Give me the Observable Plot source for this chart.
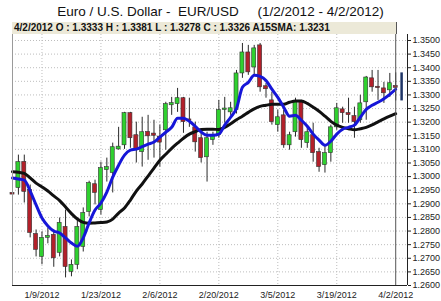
<!DOCTYPE html>
<html><head><meta charset="utf-8">
<script src="https://cdn.jsdelivr.net/npm/d3@7"></script>
<script src="https://cdn.jsdelivr.net/npm/@observablehq/plot@0.6"></script>
<style>
html,body{margin:0;padding:0;background:#fff;}
#wrap{position:relative;width:441px;height:301px;overflow:hidden;font-family:Arial,"Liberation Sans",sans-serif;}
#title{position:absolute;left:0;top:0;width:441px;height:22px;text-align:center;font-size:13.5px;line-height:23px;white-space:pre;color:#111;}
#chart{position:absolute;left:0;top:22px;}
#info{position:absolute;left:12px;top:22px;width:385px;height:12px;background:#ece9d8;border-right:1px solid #555;font-size:10px;font-weight:bold;line-height:12px;padding-left:2px;box-sizing:border-box;white-space:pre;color:#111;}
</style></head>
<body>
<div id="wrap"><div id="title"></div><div id="chart"></div><div id="info"></div></div>
<script>
const titleText = "Euro / U.S. Dollar -  EUR/USD     (1/2/2012 - 4/2/2012)";
const days = ["1/2/2012","1/3/2012","1/4/2012","1/5/2012","1/6/2012","1/9/2012","1/10/2012","1/11/2012","1/12/2012","1/13/2012",
"1/16/2012","1/17/2012","1/18/2012","1/19/2012","1/20/2012","1/23/2012","1/24/2012","1/25/2012","1/26/2012","1/27/2012",
"1/30/2012","1/31/2012","2/1/2012","2/2/2012","2/3/2012","2/6/2012","2/7/2012","2/8/2012","2/9/2012","2/10/2012",
"2/13/2012","2/14/2012","2/15/2012","2/16/2012","2/17/2012","2/20/2012","2/21/2012","2/22/2012","2/23/2012","2/24/2012",
"2/27/2012","2/28/2012","2/29/2012","3/1/2012","3/2/2012","3/5/2012","3/6/2012","3/7/2012","3/8/2012","3/9/2012",
"3/12/2012","3/13/2012","3/14/2012","3/15/2012","3/16/2012","3/19/2012","3/20/2012","3/21/2012","3/22/2012","3/23/2012",
"3/26/2012","3/27/2012","3/28/2012","3/29/2012","3/30/2012","4/2/2012"];
const opens = [1.2940,1.2958,1.3054,1.2951,1.2789,1.2705,1.2775,1.2786,1.2720,1.2815,
1.2650,1.2676,1.2742,1.2870,1.2972,1.2877,1.3024,1.3013,1.3100,1.3115,
1.3233,1.3152,1.3090,1.3164,1.3158,1.3147,1.3170,1.3262,1.3266,1.3288,
1.3210,1.3181,1.3141,1.3071,1.3134,1.3152,1.3245,1.3236,1.3244,1.3379,
1.3456,1.3401,1.3482,1.3332,1.3280,1.3189,1.3225,1.3115,1.3163,1.3273,
1.3123,1.3152,1.3090,1.3042,1.3086,1.3181,1.3247,1.3233,1.3222,1.3207,
1.3273,1.3361,1.3330,1.3324,1.3317,1.3333];
const highs = [1.2952,1.3079,1.3079,1.2969,1.2804,1.2797,1.2811,1.2804,1.2848,1.2877,
1.2694,1.2848,1.2885,1.2983,1.2987,1.3053,1.3068,1.3123,1.3181,1.3236,
1.3236,1.3200,1.3218,1.3225,1.3207,1.3189,1.3273,1.3291,1.3324,1.3291,
1.3288,1.3200,1.3170,1.3163,1.3163,1.3280,1.3291,1.3273,1.3390,1.3489,
1.3482,1.3482,1.3489,1.3342,1.3310,1.3244,1.3244,1.3163,1.3288,1.3280,
1.3181,1.3196,1.3104,1.3115,1.3189,1.3269,1.3255,1.3288,1.3255,1.3299,
1.3368,1.3390,1.3390,1.3346,1.3379,1.3381];
const lows = [1.2925,1.2932,1.2903,1.2775,1.2705,1.2676,1.2753,1.2667,1.2705,1.2628,
1.2632,1.2658,1.2723,1.2852,1.2896,1.2859,1.2980,1.2940,1.3097,1.3100,
1.3104,1.3050,1.3035,1.3060,1.3068,1.3035,1.3097,1.3225,1.3236,1.3159,
1.3181,1.3090,1.3050,1.2980,1.3115,1.3141,1.3196,1.3225,1.3230,1.3361,
1.3372,1.3372,1.3310,1.3288,1.3189,1.3163,1.3104,1.3097,1.3145,1.3104,
1.3104,1.3053,1.3016,1.3013,1.3053,1.3170,1.3196,1.3196,1.3141,1.3196,
1.3207,1.3310,1.3280,1.3269,1.3291,1.3278];
const closes = [1.2934,1.3053,1.2944,1.2793,1.2731,1.2775,1.2782,1.2700,1.2830,1.2668,
1.2676,1.2815,1.2866,1.2976,1.2940,1.3031,1.3035,1.3108,1.3110,1.3233,
1.3141,1.3097,1.3163,1.3148,1.3150,1.3125,1.3266,1.3270,1.3288,1.3200,
1.3205,1.3126,1.3068,1.3141,1.3152,1.3244,1.3250,1.3251,1.3379,1.3456,
1.3383,1.3471,1.3328,1.3321,1.3200,1.3218,1.3115,1.3152,1.3273,1.3134,
1.3163,1.3086,1.3035,1.3086,1.3181,1.3251,1.3233,1.3226,1.3200,1.3269,
1.3364,1.3328,1.3325,1.3306,1.3343,1.3326];
const fastMA = [1.2995,1.2991,1.2987,1.2947,1.2896,1.2848,1.2819,1.2800,1.2793,1.2775,
1.2756,1.2744,1.2775,1.2830,1.2877,1.2903,1.2943,1.2998,1.3042,1.3079,
1.3097,1.3101,1.3110,1.3119,1.3127,1.3145,1.3163,1.3181,1.3214,1.3214,
1.3203,1.3185,1.3164,1.3152,1.3152,1.3156,1.3189,1.3218,1.3251,1.3328,
1.3346,1.3372,1.3368,1.3353,1.3321,1.3291,1.3255,1.3222,1.3225,1.3207,
1.3185,1.3156,1.3134,1.3115,1.3130,1.3156,1.3174,1.3181,1.3189,1.3218,
1.3247,1.3262,1.3273,1.3286,1.3302,1.3321];
const slowMA = [1.3018,1.3016,1.3012,1.2995,1.2976,1.2962,1.2947,1.2929,1.2912,1.2888,
1.2864,1.2844,1.2832,1.2829,1.2830,1.2831,1.2833,1.2844,1.2866,1.2885,
1.2914,1.2947,1.2973,1.3002,1.3031,1.3060,1.3082,1.3104,1.3123,1.3141,
1.3156,1.3165,1.3173,1.3174,1.3174,1.3173,1.3181,1.3194,1.3209,1.3222,
1.3236,1.3249,1.3258,1.3262,1.3266,1.3266,1.3266,1.3273,1.3278,1.3278,
1.3269,1.3255,1.3240,1.3222,1.3203,1.3189,1.3181,1.3176,1.3172,1.3176,
1.3181,1.3190,1.3201,1.3212,1.3222,1.3231];
const xTickDays = ["1/9/2012","1/23/2012","2/6/2012","2/20/2012","3/5/2012","3/19/2012","4/2/2012"];
const yTicks = [1.26,1.265,1.27,1.275,1.28,1.285,1.29,1.295,1.30,1.305,1.31,1.315,1.32,1.325,1.33,1.335,1.34,1.345,1.35];

const candles = days.map((d, i) => ({i, date: d, open: opens[i], high: highs[i], low: lows[i], close: closes[i]}));
const fast = fastMA.map((v, i) => ({i, v}));
const slow = slowMA.map((v, i) => ({i, v}));
const xTickIdx = xTickDays.map(d => days.indexOf(d));
const last = candles[candles.length - 1];
const rangeBar = [{i: last.i + 1, low: last.low, high: last.high}];
const xDomain = [0, days.length + 1];
const yDomain = [1.26, 1.3522];
const fmt = d3.format(".4f");

document.getElementById("title").textContent = titleText;
document.getElementById("info").textContent =
  `${last.date} O : ${fmt(last.open)} H : ${fmt(last.high)} L : ${fmt(last.low)} C : ${fmt(last.close)} A15SMA: ${fmt(slowMA[slowMA.length-1])}`;

const green = "#2fd12f", red = "#b3202a";
const chart = Plot.plot({
  width: 441, height: 279,
  marginLeft: 12, marginRight: 34, marginTop: 12, marginBottom: 16,
  style: {fontFamily: "Arial, 'Liberation Sans', sans-serif", fontSize: "9px", color: "#222", background: "transparent", overflow: "visible"},
  x: {domain: xDomain},
  y: {domain: yDomain},
  marks: [
    Plot.ruleY(yTicks, {stroke: "#bdbdbd", strokeDasharray: "1,2"}),
    Plot.ruleX(xTickIdx.slice(0, -1), {stroke: "#bdbdbd", strokeDasharray: "1,2"}),
    Plot.ruleX(candles, {x: "i", y1: "low", y2: "high", stroke: "#2a2a2a", strokeWidth: 1}),
    Plot.rect(candles, {x1: d => d.i - 0.34, x2: d => d.i + 0.34, y1: "open", y2: "close",
      fill: d => d.close >= d.open ? green : red, stroke: "#333", strokeWidth: 0.6}),
    Plot.line(slow, {x: "i", y: "v", stroke: "#111", strokeWidth: 3, curve: "monotone-x"}),
    Plot.line(fast, {x: "i", y: "v", stroke: "#1616d8", strokeWidth: 3, curve: "monotone-x"}),
    Plot.ruleX([last], {x: "i", stroke: "#555", strokeWidth: 1}),
    Plot.ruleX(rangeBar, {x: "i", y1: "low", y2: "high", stroke: "#1e3466", strokeWidth: 2.5}),
    Plot.ruleX([xDomain[0]], {stroke: "#9a9a9a"}),
    Plot.ruleX([xDomain[1]], {stroke: "#222"}),
    Plot.ruleY([yDomain[0]], {stroke: "#222", strokeWidth: 1.2}),
    Plot.axisY(yTicks, {anchor: "right", tickFormat: fmt, tickSize: 3, tickPadding: 2, label: null}),
    Plot.axisX(xTickIdx, {tickFormat: i => days[i], tickSize: 0, tickPadding: 6, label: null})
  ]
});
document.getElementById("chart").appendChild(chart);
</script>
</body></html>
